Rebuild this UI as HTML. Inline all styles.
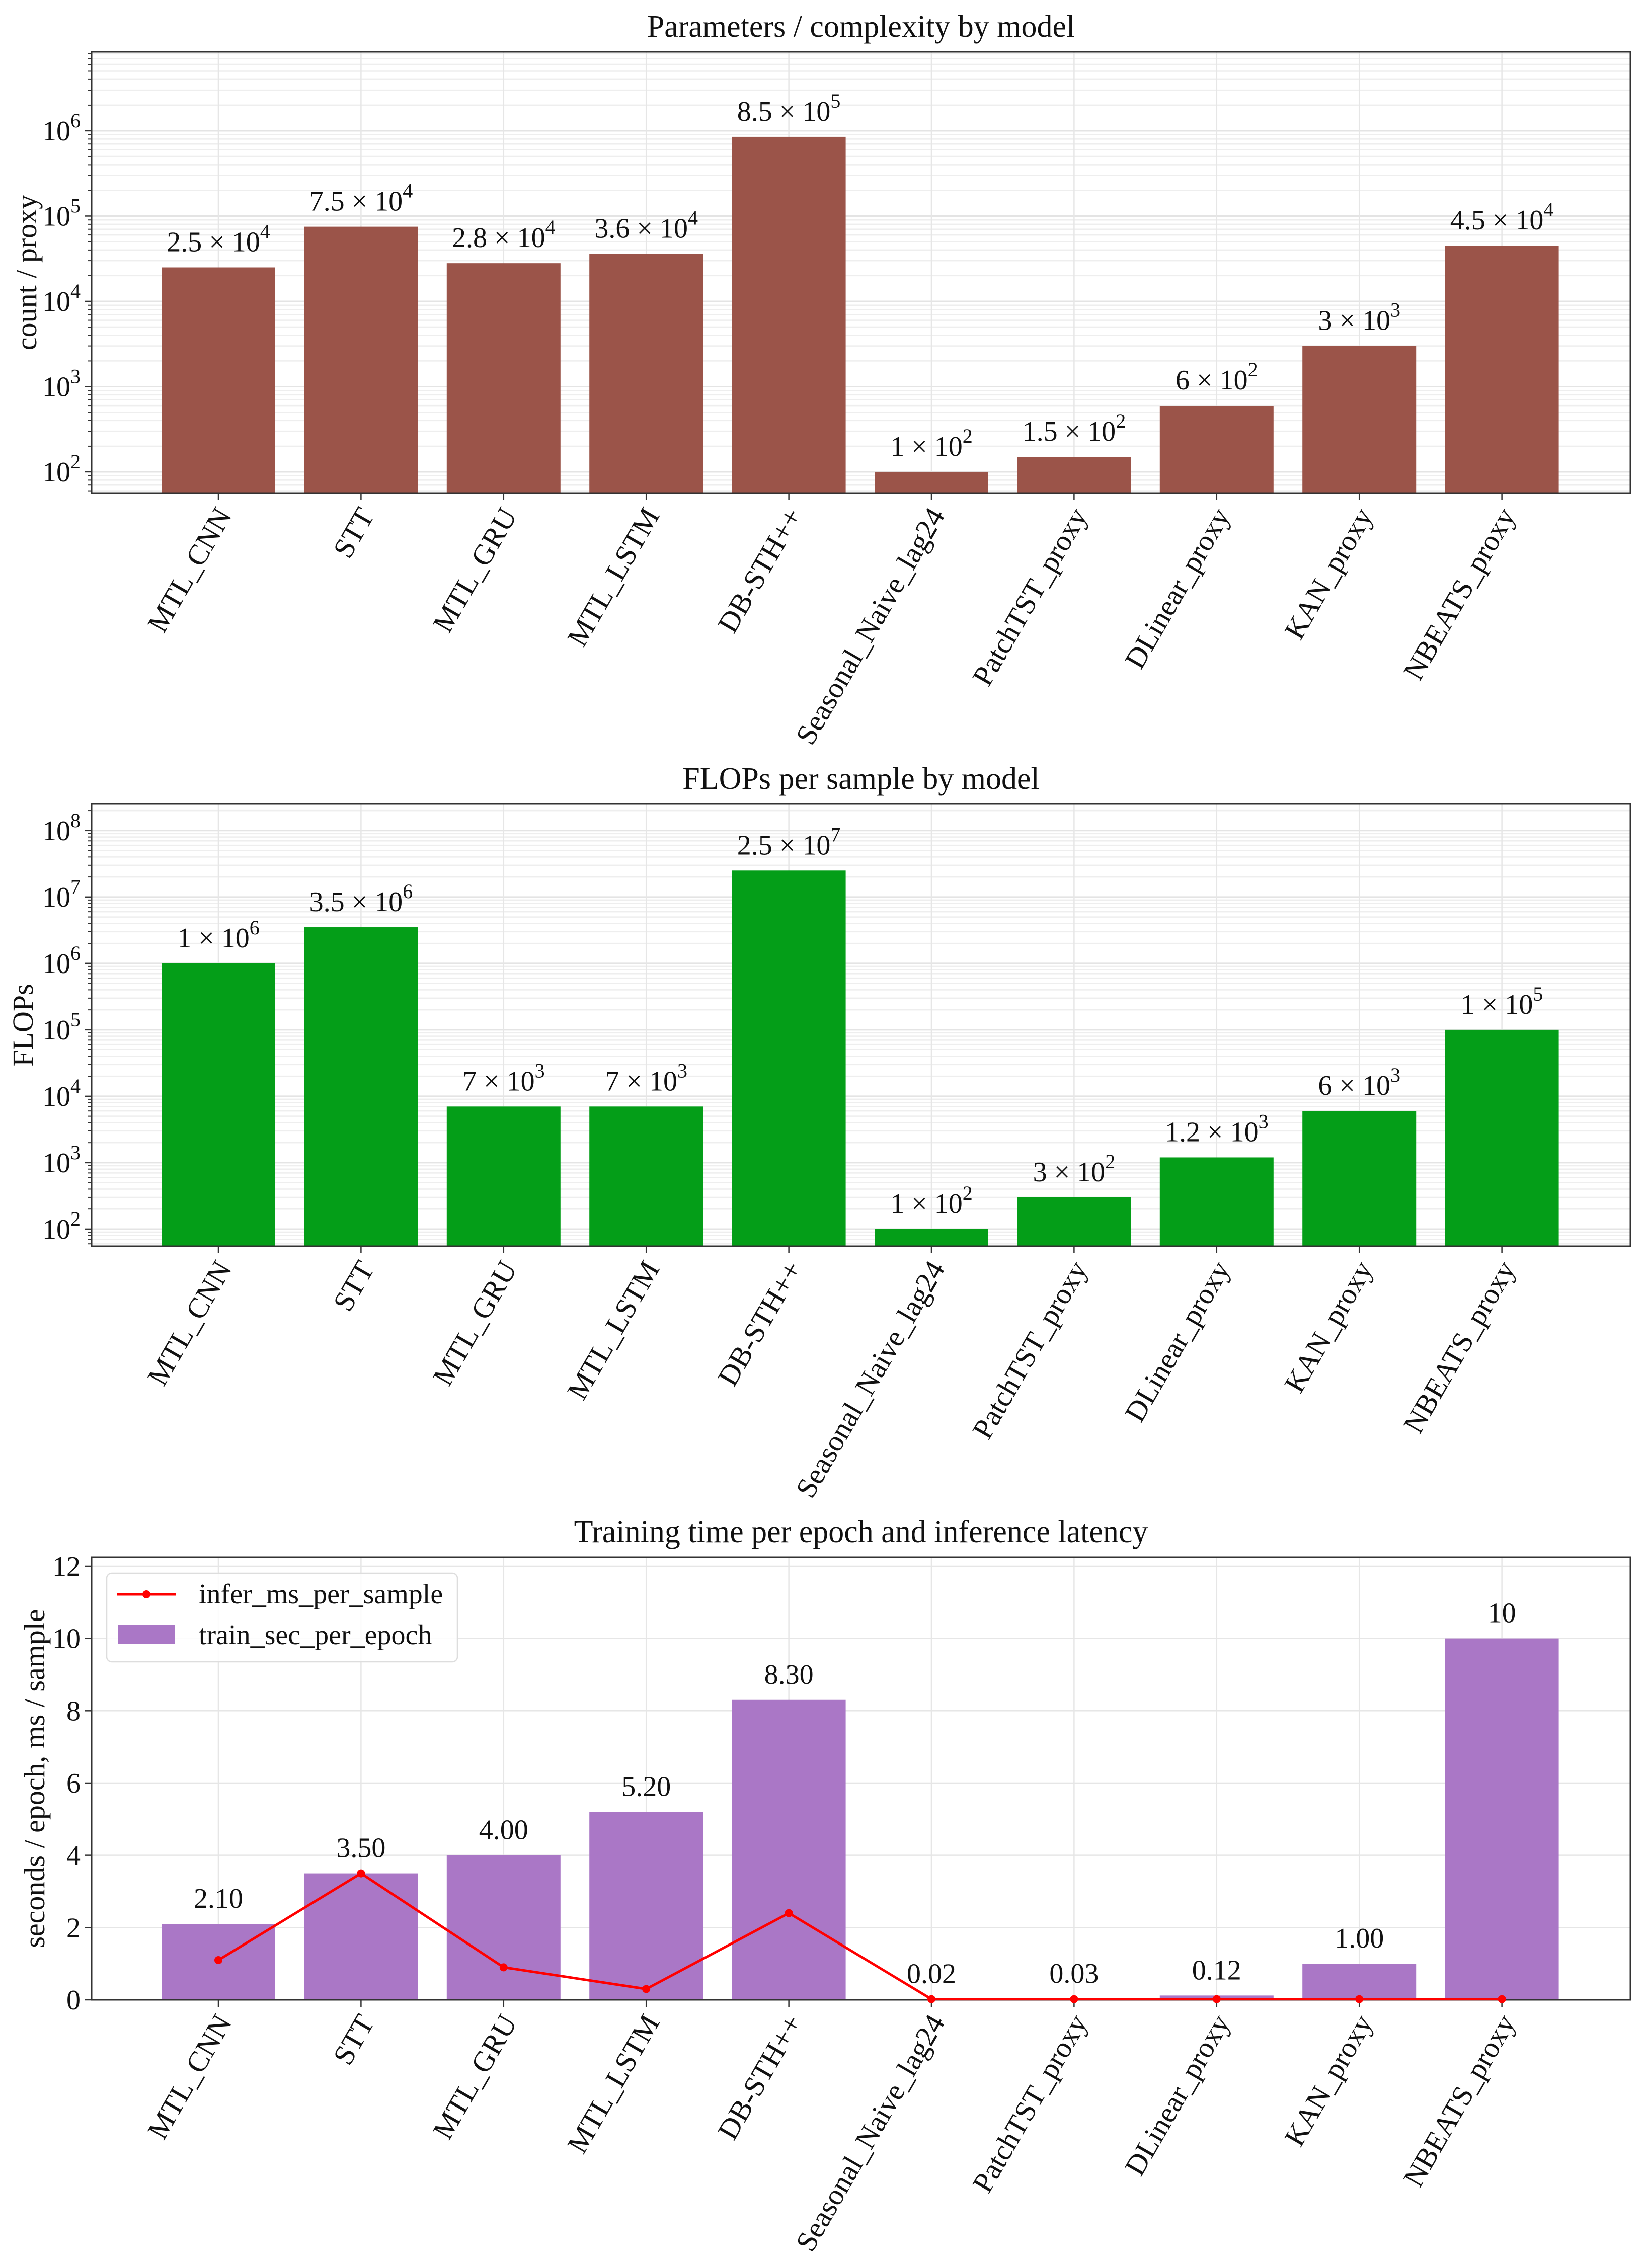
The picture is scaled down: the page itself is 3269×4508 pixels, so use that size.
<!DOCTYPE html>
<html><head><meta charset="utf-8">
<style>
html,body{margin:0;padding:0;background:#fff;}
svg{display:block;font-family:"Liberation Serif","Times New Roman",serif;}
</style></head>
<body>
<svg id="fig" width="3269" height="4508" viewBox="0 0 3269 4508" xmlns="http://www.w3.org/2000/svg"></svg>
<script>
const categories = ["MTL_CNN","STT","MTL_GRU","MTL_LSTM","DB-STH++","Seasonal_Naive_lag24","PatchTST_proxy","DLinear_proxy","KAN_proxy","NBEATS_proxy"];
const paramMant = [2.5,7.5,2.8,3.6,8.5,1,1.5,6,3,4.5];
const paramExp  = [4,4,4,4,5,2,2,2,3,4];
const flopMant = [1,3.5,7,7,2.5,1,3,1.2,6,1];
const flopExp  = [6,6,3,3,7,2,2,3,3,5];
const trainSec = [2.1,3.5,4.0,5.2,8.3,0.02,0.03,0.12,1.0,10];
const trainLabels = ["2.10","3.50","4.00","5.20","8.30","0.02","0.03","0.12","1.00","10"];
const inferMs = [1.1,3.5,0.9,0.3,2.4,0.02,0.02,0.02,0.02,0.02];
const logTicks1 = [2,3,4,5,6];
const logTicks2 = [2,3,4,5,6,7,8];
const linTicks3 = [0,2,4,6,8,10,12];

const NS="http://www.w3.org/2000/svg";
const svg=document.getElementById('fig');
function el(tag,attrs,parent){const e=document.createElementNS(NS,tag);for(const k in attrs)e.setAttribute(k,attrs[k]);(parent||svg).appendChild(e);return e;}

const L=182,R=3240;
const x0=434, step=283.4, barW=226;
function xPos(i){return x0+i*step;}

function axes(cfg){
  const g=el('g',{});
  
  
  const T=cfg.top,B=cfg.bottom;
  // grid
  if(cfg.log){
    for(let d=Math.floor(cfg.lmin);d<=Math.ceil(cfg.lmax);d++){
      for(let m=1;m<10;m++){
        const v=d+Math.log10(m); if(v<cfg.lmin||v>cfg.lmax)continue;
        const y=cfg.y(Math.pow(10,v));
        const gl=el('line',{x1:L,x2:R,y1:y,y2:y,stroke:m===1?'#e4e4e4':'#eeeeee','stroke-width':m===1?3:2.5},g);
        
        
        el('line',{x1:L-(m===1?12:7),x2:L,y1:y,y2:y,stroke:'#333','stroke-width':2},g);
      }
    }
  } else {
    cfg.ticks.forEach(t=>{const y=cfg.y(t);
      const gl=el('line',{x1:L,x2:R,y1:y,y2:y,stroke:'#e6e6e6','stroke-width':2.5},g);
      
      
    });
  }
  categories.forEach((c,i)=>{el('line',{x1:xPos(i),x2:xPos(i),y1:T,y2:B,stroke:'#e6e6e6','stroke-width':2.5},g);});
  // bars
  cfg.vals.forEach((v,i)=>{
    const yt=cfg.y(v);
    const b=el('rect',{x:xPos(i)-barW/2,y:yt,width:barW,height:B-yt,fill:cfg.color},g);
    
    
    const t=el('text',{x:xPos(i),y:yt-32,'font-size':56,'text-anchor':'middle',fill:'#111'},g);
    
    
    if(cfg.mant){
      t.appendChild(document.createTextNode(cfg.mant[i]+' \u00d7 10'));
      const s=el('tspan',{dy:-26,'font-size':40},t); s.textContent=cfg.exp[i];
    } else t.textContent=cfg.labels[i];
  });
  // frame
  const fr=el('rect',{x:L,y:T,width:R-L,height:B-T,fill:'none',stroke:'#333','stroke-width':3},g);
  
  
  // y ticks
  const tl=cfg.log?cfg.ticks:cfg.ticks;
  tl.forEach(t=>{
    const y=cfg.log?cfg.y(Math.pow(10,t)):cfg.y(t);
    el('line',{x1:L-14,x2:L,y1:y,y2:y,stroke:'#333','stroke-width':2.5},g);
    const tx=el('text',{x:L-22,y:y+19,'font-size':56,'text-anchor':'end',fill:'#111'},g);
    
    
    if(cfg.log){tx.appendChild(document.createTextNode('10'));const s=el('tspan',{dy:-26,'font-size':40},tx);s.textContent=t;}
    else tx.textContent=t;
  });
  // x ticks
  categories.forEach((c,i)=>{
    const x=xPos(i);
    el('line',{x1:x,x2:x,y1:B,y2:B+14,stroke:'#333','stroke-width':2.5},g);
    const ax=x+28, ay=B+44;
    const tx=el('text',{x:ax,y:ay,'font-size':58,'text-anchor':'end',fill:'#111',transform:`rotate(-60 ${ax} ${ay})`},g);
    
    
    tx.textContent=c;
  });
  // title
  const ti=el('text',{x:(L+R)/2,y:T-30,'font-size':62,'text-anchor':'middle',fill:'#111'},g);
  
  
  ti.textContent=cfg.title;
  const yc=(T+B)/2;
  const yl=el('text',{x:cfg.ylx,y:yc,'font-size':58,'text-anchor':'middle',fill:'#111',transform:`rotate(-90 ${cfg.ylx} ${yc})`},g);
  
  
  yl.textContent=cfg.ylabel;
  return g;
}

// chart 1
(function(){
  const T=103,B=980,lmin=1.752,lmax=6.926;
  const y=v=>B-(Math.log10(v)-lmin)/(lmax-lmin)*(B-T);
  axes({name:'params-chart',top:T,bottom:B,log:true,lmin,lmax,y,ticks:logTicks1,
    vals:paramMant.map((m,i)=>m*Math.pow(10,paramExp[i])),mant:paramMant,exp:paramExp,
    color:'#9b5449',title:'Parameters / complexity by model',ylabel:'count / proxy',ylx:72});
})();
// chart 2
(function(){
  const T=1598,B=2477,lmin=1.742,lmax=8.4;
  const y=v=>B-(Math.log10(v)-lmin)/(lmax-lmin)*(B-T);
  axes({name:'flops-chart',top:T,bottom:B,log:true,lmin,lmax,y,ticks:logTicks2,
    vals:flopMant.map((m,i)=>m*Math.pow(10,flopExp[i])),mant:flopMant,exp:flopExp,
    color:'#049e18',title:'FLOPs per sample by model',ylabel:'FLOPs',ylx:65});
})();
// chart 3
(function(){
  const T=3095,B=3975,ymax=12.25;
  const y=v=>B-v/ymax*(B-T);
  const g=axes({name:'time-chart',top:T,bottom:B,log:false,y,ticks:linTicks3,
    vals:trainSec,labels:trainLabels,color:'#aa77c6',
    title:'Training time per epoch and inference latency',ylabel:'seconds / epoch, ms / sample',ylx:88});
  const pts=inferMs.map((v,i)=>xPos(i)+','+y(v)).join(' ');
  const pl=el('polyline',{points:pts,fill:'none',stroke:'#ff0000','stroke-width':5},g);
  
  
  inferMs.forEach((v,i)=>{
    const c=el('circle',{cx:xPos(i),cy:y(v),r:8,fill:'#ff0000'},g);
    
    
  });
  // legend
  const lg=el('g',{},g);
  
  
  el('rect',{x:212,y:3127,width:697,height:176,rx:10,fill:'#fff','fill-opacity':0.85,stroke:'#dddddd','stroke-width':2.5},lg);
  el('line',{x1:232,x2:350,y1:3169,y2:3169,stroke:'#ff0000','stroke-width':5},lg);
  el('circle',{cx:291,cy:3169,r:8,fill:'#ff0000'},lg);
  const t1=el('text',{x:395,y:3187,'font-size':56,fill:'#111'},lg);
  
  
  t1.textContent='infer_ms_per_sample';
  el('rect',{x:234,y:3230,width:114,height:38,fill:'#aa77c6'},lg);
  const t2=el('text',{x:395,y:3268,'font-size':56,fill:'#111'},lg);
  
  
  t2.textContent='train_sec_per_epoch';
})();
</script>
</body></html>
